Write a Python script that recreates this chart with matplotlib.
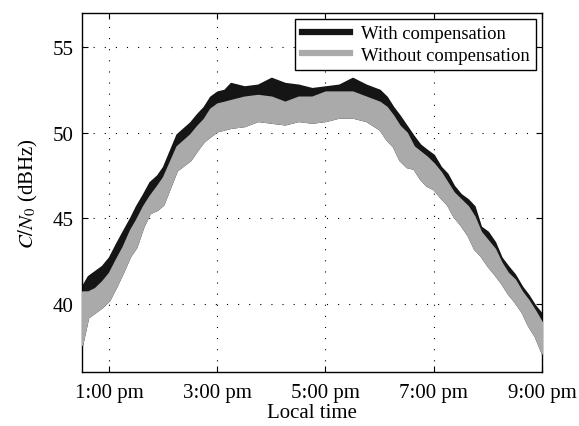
import numpy as np
import matplotlib
matplotlib.use('Agg')
import matplotlib.pyplot as plt
from matplotlib.lines import Line2D

plt.rcParams['font.family'] = ['Liberation Serif', 'DejaVu Serif']
plt.rcParams['mathtext.fontset'] = 'stix'

# local time in hours (12.5 = 12:30 pm)
hours = [12.5, 12.61, 12.74, 12.87, 13.0, 13.13, 13.25, 13.39, 13.5, 13.63, 13.75, 13.89, 14.0,
         14.25, 14.5, 14.63, 14.75, 14.87, 15.0, 15.13, 15.25, 15.5, 15.75, 16.0, 16.25,
         16.5, 16.75, 17.0, 17.25, 17.5, 17.75, 18.0, 18.13, 18.25, 18.37, 18.5, 18.63,
         18.75, 18.87, 19.0, 19.13, 19.25, 19.37, 19.5, 19.63, 19.75, 19.87, 20.0, 20.13,
         20.25, 20.37, 20.5, 20.63, 20.75, 20.87, 21.0]

# upper envelope of "with compensation" trace (dBHz)
with_top = [41.0, 41.6, 41.9, 42.2, 42.7, 43.5, 44.2, 45.0, 45.7, 46.4, 47.1, 47.5, 48.0,
            49.9, 50.6, 51.1, 51.5, 52.1, 52.4, 52.5, 52.9, 52.7, 52.8, 53.2, 52.9,
            52.8, 52.6, 52.7, 52.8, 53.2, 52.8, 52.5, 52.1, 51.5, 51.0, 50.4, 49.8,
            49.3, 49.0, 48.7, 48.0, 47.6, 46.9, 46.4, 46.1, 45.7, 44.5, 44.2, 43.6,
            42.7, 42.2, 41.7, 41.0, 40.5, 39.9, 39.4]

# upper / lower envelope of "without compensation" trace (dBHz)
without_top = [40.7, 40.7, 40.9, 41.3, 41.8, 42.6, 43.3, 44.3, 44.9, 45.7, 46.3, 46.9, 47.4,
               49.2, 49.9, 50.4, 50.8, 51.4, 51.7, 51.8, 51.9, 52.1, 52.2, 52.1, 51.8,
               52.1, 52.1, 52.4, 52.4, 52.4, 52.1, 51.8, 51.5, 51.0, 50.4, 50.0, 49.2,
               48.9, 48.6, 48.2, 47.7, 47.1, 46.5, 46.1, 45.7, 45.1, 44.2, 43.7, 43.2,
               42.4, 41.8, 41.4, 40.7, 40.2, 39.6, 38.9]
without_bot = [37.6, 39.2, 39.5, 39.8, 40.2, 41.0, 41.8, 42.8, 43.3, 44.5, 45.3, 45.5, 45.8,
               47.8, 48.4, 49.0, 49.5, 49.8, 50.1, 50.2, 50.3, 50.4, 50.7, 50.6, 50.5,
               50.7, 50.6, 50.7, 50.9, 50.9, 50.7, 50.2, 49.6, 49.2, 48.4, 48.0, 47.9,
               47.3, 46.9, 46.7, 46.2, 45.8, 45.1, 44.6, 44.0, 43.2, 42.8, 42.2, 41.7,
               41.2, 40.6, 40.1, 39.5, 38.7, 38.1, 37.1]

black = '#151515'
gray = '#aaaaaa'

fig = plt.figure(figsize=(5.79, 4.27), dpi=100)
ax = fig.add_axes([0.1416, 0.1265, 0.7944, 0.8405])

t = np.array(hours)
# black trace: visible above the gray one, lower part hidden below it
ax.fill_between(t, with_top, without_bot, color=black, lw=1.2, edgecolor=black, zorder=2)
ax.fill_between(t, without_top, without_bot, color=gray, lw=1.2, edgecolor=gray, zorder=3)

ax.set_xlim(12.5, 21)
ax.set_ylim(36, 57)
ax.set_xticks([13, 15, 17, 19, 21])
ax.set_xticklabels(['1:00 pm', '3:00 pm', '5:00 pm', '7:00 pm', '9:00 pm'])
ax.set_yticks([40, 45, 50, 55])
ax.tick_params(direction='in', top=True, right=True, labelsize=15, length=4)
ax.tick_params(axis='x', pad=8)
ax.tick_params(axis='y', pad=6)
ax.grid(True, color='black', linestyle=(0, (1, 9)), linewidth=0.8)
ax.set_axisbelow(True)
for s in ax.spines.values():
    s.set_linewidth(1.0)

ax.set_xlabel('Local time', fontsize=15, labelpad=1)
ax.set_ylabel(r'$C/N_0$ (dBHz)', fontsize=15, labelpad=9)

handles = [Line2D([], [], color=black, lw=4.5), Line2D([], [], color=gray, lw=4.5)]
leg = ax.legend(handles, ['With compensation', 'Without compensation'], loc='upper right',
                fontsize=13.4, fancybox=False, edgecolor='black', framealpha=1,
                borderaxespad=0.3, handlelength=2.6, handletextpad=0.6,
                borderpad=0.35, labelspacing=0.25)
leg.get_frame().set_linewidth(1.0)

fig.savefig('out.png', dpi=100)
